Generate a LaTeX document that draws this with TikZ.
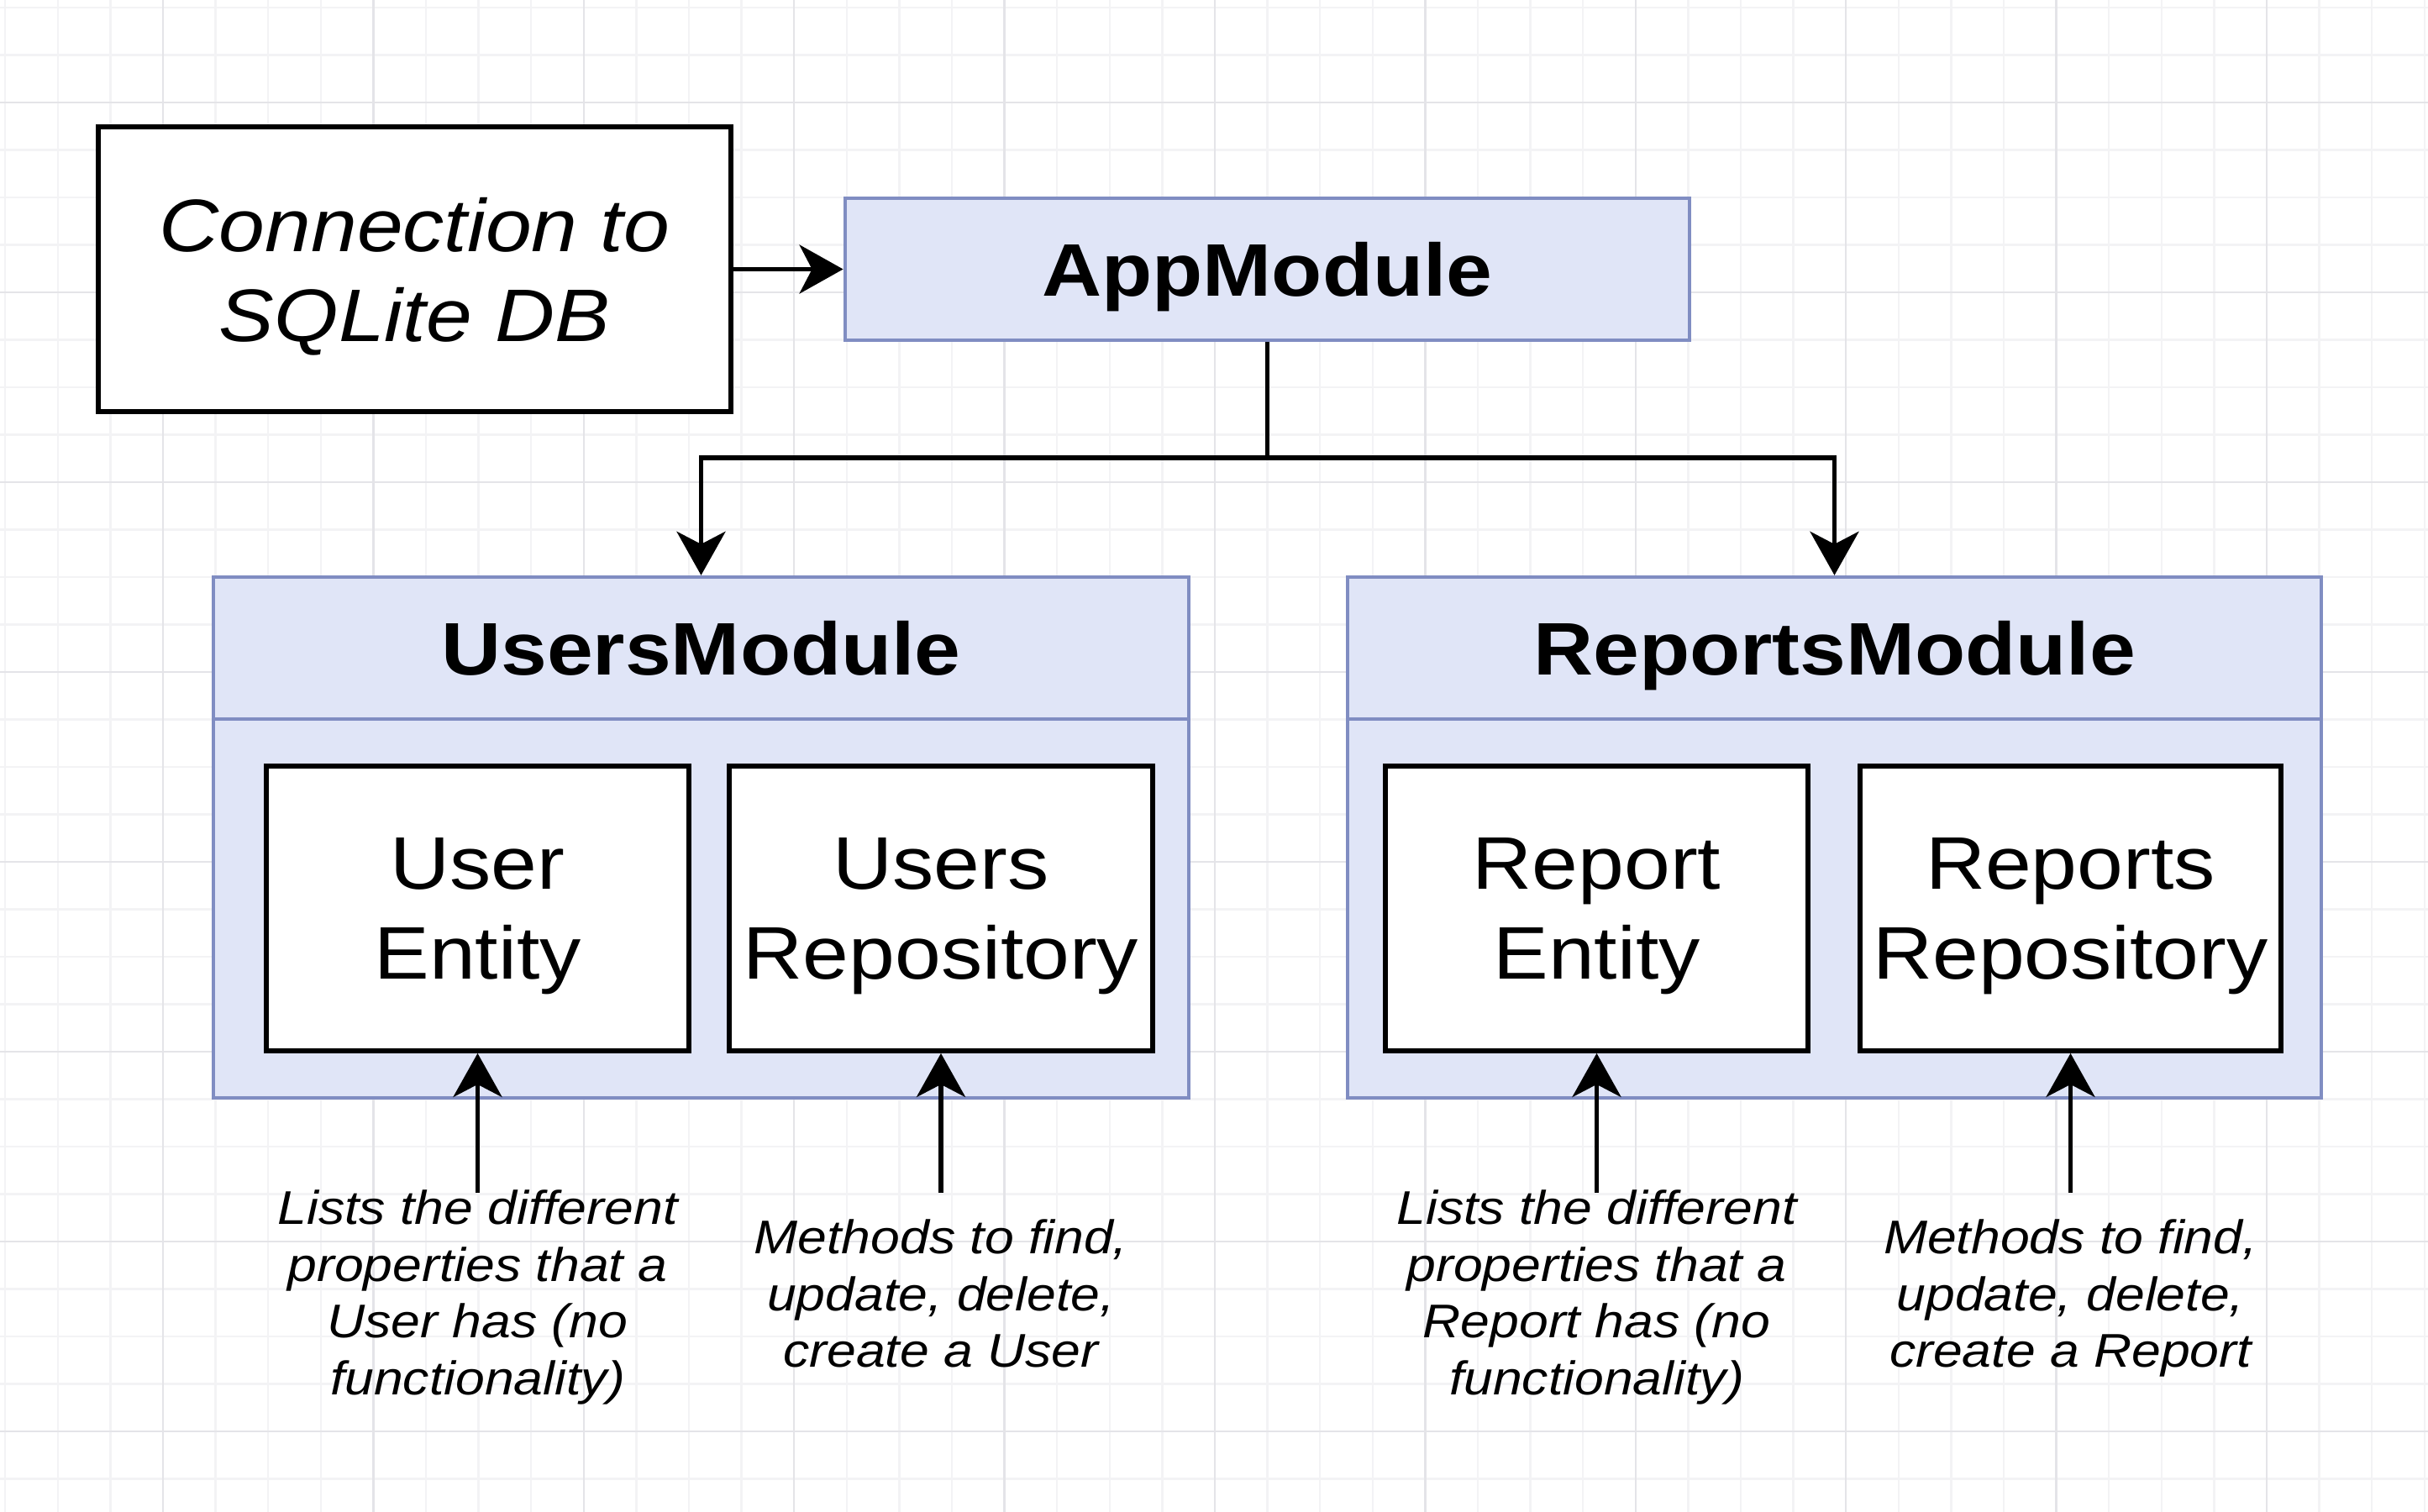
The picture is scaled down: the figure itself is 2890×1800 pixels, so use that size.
\documentclass[tikz,border=0pt]{standalone}
\usepackage{fontspec}
\setmainfont{Liberation Sans}[FakeStretch=1.111]
\usetikzlibrary{arrows.meta}
\definecolor{modfill}{RGB}{224,229,247}
\definecolor{modline}{RGB}{128,141,194}
\definecolor{gridmin}{RGB}{243,243,245}
\definecolor{gridmaj}{RGB}{228,228,232}
\newcommand\BigText{\fontsize{25.2}{30.45}\selectfont}
\newcommand\NoteText{\fontsize{16}{19.26}\selectfont\itshape}
\tikzset{%
  >={Stealth[length=5.2mm,width=5.8mm,inset=1.5mm]},
  whitebox/.style={draw=black,line width=1.6pt,fill=white,inner sep=0pt,
    align=center,text depth=0pt,font=\BigText},
  modbox/.style={draw=modline,line width=1.2pt,fill=modfill,inner sep=0pt,
    align=center,text depth=0pt,font=\BigText\bfseries},
  note/.style={inner sep=0pt,align=center,font=\NoteText},
  link/.style={->,line width=1.6pt}
}
\begin{document}
\begin{tikzpicture}[x=0.01cm,y=-0.01cm]
\useasboundingbox (0,0) rectangle (2890,1800);
\fill[white] (0,0) rectangle (2890,1800);

% background grid
\foreach \i in {0,...,46} \draw[gridmin,line width=0.7pt] ({6.2+62.6*\i},0) -- ++(0,1800);
\foreach \i in {0,...,31} \draw[gridmin,line width=0.7pt] (0,{9+56.5*\i}) -- ++(2890,0);
\foreach \i in {0,...,11} \draw[gridmaj,line width=0.7pt] ({194+250.4*\i},0) -- ++(0,1800);
\foreach \i in {0,...,7} \draw[gridmaj,line width=0.7pt] (0,{122+226*\i}) -- ++(2890,0);

\node[whitebox,minimum width=7.53cm,minimum height=3.39cm,font=\BigText\itshape] (conn) at (493.5,320.5) {Connection to\\SQLite DB};
\node[modbox,minimum width=10.05cm,minimum height=1.69cm] (app) at (1508.5,320.5) {AppModule};

% modules
\node[modbox,minimum width=11.61cm,minimum height=1.69cm] (usershd) at (834.5,771.5) {UsersModule};
\node[modbox,minimum width=11.61cm,minimum height=4.51cm] (usersbd) at (834.5,1081.5) {};
\node[modbox,minimum width=11.59cm,minimum height=1.69cm] (reportshd) at (2183.5,771.5) {ReportsModule};
\node[modbox,minimum width=11.59cm,minimum height=4.51cm] (reportsbd) at (2183.5,1081.5) {};

\node[whitebox,minimum width=5.03cm,minimum height=3.39cm] (userent) at (568.5,1081.5) {User\\Entity};
\node[whitebox,minimum width=5.04cm,minimum height=3.39cm] (userrepo) at (1120,1081.5) {Users\\Repository};
\node[whitebox,minimum width=5.03cm,minimum height=3.39cm] (reportent) at (1900.5,1081.5) {Report\\Entity};
\node[whitebox,minimum width=5.01cm,minimum height=3.39cm] (reportrepo) at (2464.5,1081.5) {Reports\\Repository};

% notes
\node[note,anchor=north] (userentnote) at (568.5,1416) {Lists the different\\properties that a\\User has (no\\functionality)};
\node[note,anchor=north] (userreponote) at (1120,1451) {Methods to find,\\update, delete,\\create a User};
\node[note,anchor=north] (reportentnote) at (1900.5,1416) {Lists the different\\properties that a\\Report has (no\\functionality)};
\node[note,anchor=north] (reportreponote) at (2464.5,1451) {Methods to find,\\update, delete,\\create a Report};

\coordinate (split) at (1508.5,545);
\coordinate (userenttail) at (568.5,1420);
\coordinate (userrepotail) at (1120,1420);
\coordinate (reportenttail) at (1900.5,1420);
\coordinate (reportrepotail) at (2464.5,1420);

\draw[link] (conn.east) -- (app.west);
\draw[link] (app.south) -- (split) -| (usershd.north);
\draw[link] (split) -| (reportshd.north);
\draw[link] (userenttail) -- (userent.south);
\draw[link] (userrepotail) -- (userrepo.south);
\draw[link] (reportenttail) -- (reportent.south);
\draw[link] (reportrepotail) -- (reportrepo.south);
\end{tikzpicture}
\end{document}
